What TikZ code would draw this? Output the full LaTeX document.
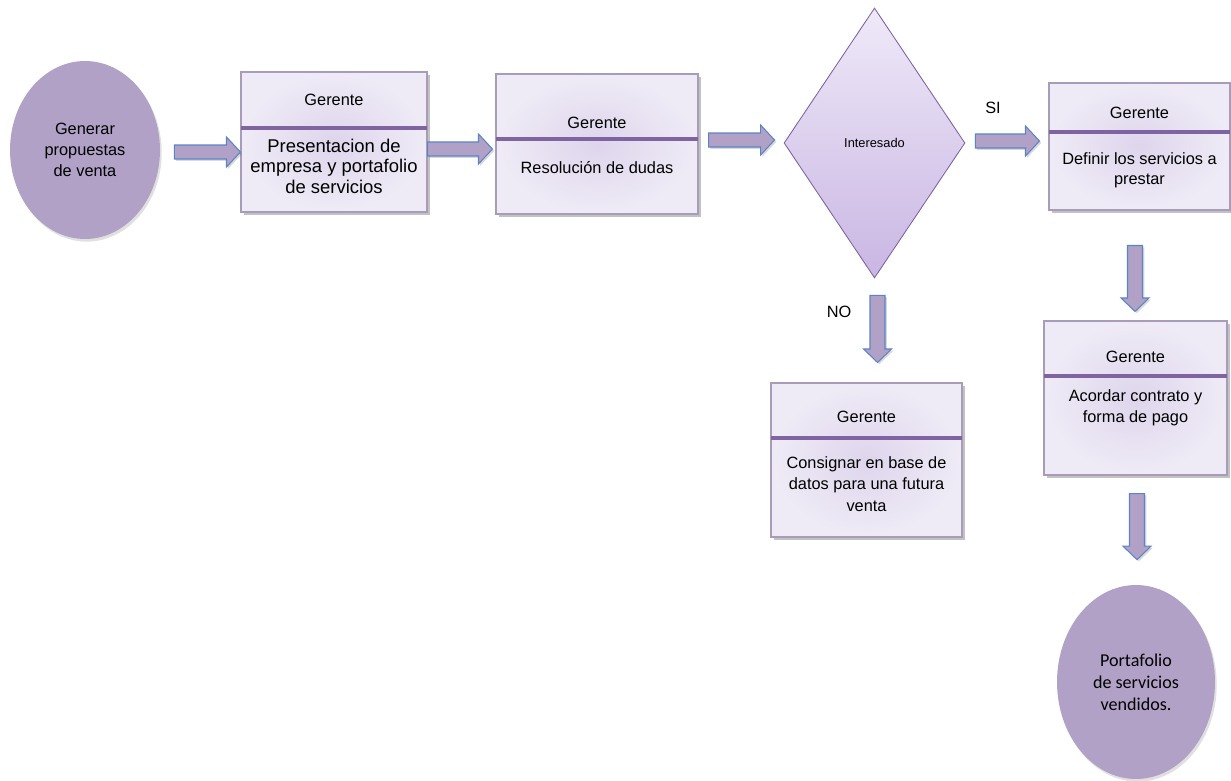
\documentclass[tikz,border=0pt]{standalone}
\usepackage{fontspec}
\setmainfont{Liberation Sans}
\newfontfamily\calibri{Carlito}
\usetikzlibrary{shapes.geometric,shadows,calc}

\definecolor{lila}{HTML}{B2A1C7}
\definecolor{borde}{HTML}{5B84C4}
\definecolor{cajaborde}{HTML}{A89CB8}
\definecolor{raya}{HTML}{8064A2}
\definecolor{cajain}{HTML}{DED5EC}
\definecolor{cajaout}{HTML}{EFEBF6}
\definecolor{romboarriba}{HTML}{EFE9F8}
\definecolor{romboabajo}{HTML}{C9B6E3}

\tikzset{
  sombra/.style={drop shadow={shadow xshift=1.5pt, shadow yshift=-1.5pt, opacity=0.4, fill=black!60}},
  caja/.style={rectangle, draw=cajaborde, line width=0.6pt, inner sep=0pt, inner color=cajain, outer color=cajaout, sombra},
  ovalo/.style={ellipse, fill=lila, inner sep=0pt, align=center, drop shadow={shadow xshift=1pt, shadow yshift=-1.5pt, opacity=0.2, fill=black!60}},
  rombo/.style={diamond, draw=raya, line width=0.5pt, inner sep=0pt, top color=romboarriba, bottom color=romboabajo, font=\fontsize{7.3}{9}\selectfont},
  flecha/.style={fill=lila, draw=borde, line width=0.6pt, drop shadow={shadow xshift=1pt, shadow yshift=-1pt, opacity=0.25, fill=black!60}},
  harr/.style={flecha, to path={let \p1=(\tikztostart), \p2=(\tikztotarget) in
    (\x1,{\y1+0.14cm}) -- ({\x2-0.28cm},{\y1+0.14cm}) -- ({\x2-0.28cm},{\y1+0.3cm}) -- (\x2,\y1)
    -- ({\x2-0.28cm},{\y1-0.3cm}) -- ({\x2-0.28cm},{\y1-0.14cm}) -- (\x1,{\y1-0.14cm}) -- cycle}},
  varr/.style={flecha, to path={let \p1=(\tikztostart), \p2=(\tikztotarget) in
    ({\x1-0.15cm},\y1) -- ({\x1-0.15cm},{\y2+0.27cm}) -- ({\x1-0.28cm},{\y2+0.27cm}) -- (\x1,\y2)
    -- ({\x1+0.28cm},{\y2+0.27cm}) -- ({\x1+0.15cm},{\y2+0.27cm}) -- ({\x1+0.15cm},\y1) -- cycle}}
}

\begin{document}
\begin{tikzpicture}[x=0.02cm, y=-0.02cm, font=\fontsize{9.3}{12}\selectfont]
\useasboundingbox (0,0) rectangle (1231,781);

\node[ovalo, minimum width=3cm, minimum height=3.56cm] (e1) at (85,150) {Generar\\propuestas\\de venta};

\foreach \nm/\xa/\ya/\xb/\yb/\hy/\gy/\ty/\fa/\txt in {
  b1/241/72/427/212/128/100/166/{\fontsize{10.5}{11.7}\selectfont}/{Presentacion de\\empresa y portafolio\\de servicios},
  b2/496/74/698/214/139/123/168/{\fontsize{9.3}{12}\selectfont}/{Resolución de dudas},
  b3/1049/83/1230/210/132/113/170/{\fontsize{9.3}{11.5}\selectfont}/{Definir los servicios a\\prestar},
  b4/771/383/962/537/438/417/484/{\fontsize{9.3}{12.2}\selectfont}/{Consignar en base de\\datos para una futura\\venta},
  b5/1044/321/1227/475/376/357/408/{\fontsize{9.3}{12}\selectfont}/{Acordar contrato y\\forma de pago}} {
\node[caja, minimum width=(\xb-\xa)*0.02cm, minimum height=(\yb-\ya)*0.02cm] (\nm) at ({(\xa+\xb)/2},{(\ya+\yb)/2}) {};
\draw[raya, line width=2pt] (\xa,\hy) -- (\xb,\hy);
\node at ({(\xa+\xb)/2},\gy) {Gerente};
\node[align=center, font=\fa] at ({(\xa+\xb)/2},\ty) {\txt};
}

\node[rombo, minimum width=3.62cm, minimum height=5.4cm] (d) at (874.5,143) {Interesado};

\node[ovalo, minimum width=3.16cm, minimum height=3.88cm, font=\calibri\fontsize{10.3}{12.5}\selectfont] (e2) at (1136,682) {Portafolio\\de servicios\\vendidos.};

\node (si) at (993,108) {SI};
\node (no) at (839,312) {NO};

\draw[harr] ([xshift=0.28cm,yshift=-0.04cm]e1.east) to (b1.west);
\draw[harr] ([yshift=-0.14cm]b1.east) to ([xshift=-0.06cm]b2.west);
\draw[harr] ([xshift=0.2cm,yshift=0.08cm]b2.east) to ([xshift=-0.18cm]d.west);
\draw[harr] ([xshift=0.2cm,yshift=0.04cm]d.east) to ([xshift=-0.18cm]b3.west);
\draw[varr] ([xshift=0.06cm,yshift=-0.34cm]d.south) to ([yshift=0.4cm]b4.north);
\draw[varr] ([xshift=-0.09cm,yshift=-0.7cm]b3.south) to ([yshift=0.18cm]b5.north);
\draw[varr] ([xshift=0.03cm,yshift=-0.36cm]b5.south) to ([yshift=0.5cm]e2.north);
\end{tikzpicture}
\end{document}
